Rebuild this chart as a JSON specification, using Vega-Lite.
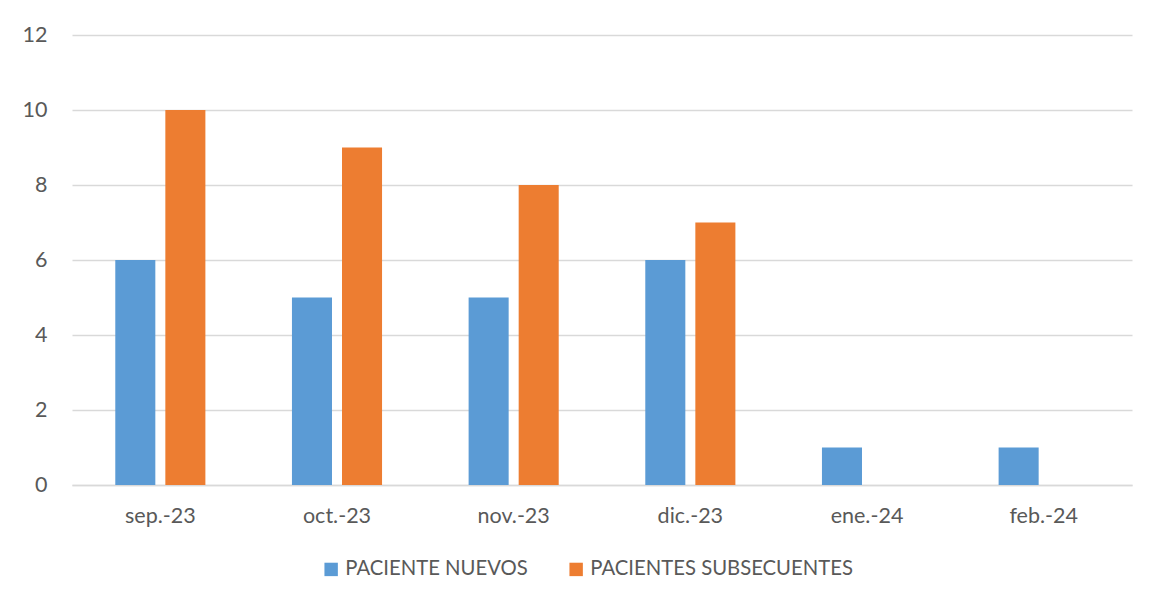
{
  "$schema": "https://vega.github.io/schema/vega-lite/v6.json",
  "width": 1060,
  "height": 450,
  "autosize": "none",
  "padding": {"left": 72, "top": 35, "right": 27, "bottom": 118},
  "background": "white",
  "data": {
    "values": [
      {"mes": "sep.-23", "serie": "PACIENTE NUEVOS", "valor": 6},
      {"mes": "sep.-23", "serie": "PACIENTES SUBSECUENTES", "valor": 10},
      {"mes": "oct.-23", "serie": "PACIENTE NUEVOS", "valor": 5},
      {"mes": "oct.-23", "serie": "PACIENTES SUBSECUENTES", "valor": 9},
      {"mes": "nov.-23", "serie": "PACIENTE NUEVOS", "valor": 5},
      {"mes": "nov.-23", "serie": "PACIENTES SUBSECUENTES", "valor": 8},
      {"mes": "dic.-23", "serie": "PACIENTE NUEVOS", "valor": 6},
      {"mes": "dic.-23", "serie": "PACIENTES SUBSECUENTES", "valor": 7},
      {"mes": "ene.-24", "serie": "PACIENTE NUEVOS", "valor": 1},
      {"mes": "ene.-24", "serie": "PACIENTES SUBSECUENTES", "valor": 0},
      {"mes": "feb.-24", "serie": "PACIENTE NUEVOS", "valor": 1},
      {"mes": "feb.-24", "serie": "PACIENTES SUBSECUENTES", "valor": 0}
    ]
  },
  "mark": {"type": "bar"},
  "encoding": {
    "x": {
      "field": "mes",
      "type": "nominal",
      "sort": null,
      "scale": {"paddingInner": 0.49, "paddingOuter": 0.245},
      "axis": {
        "title": null,
        "labelAngle": 0,
        "ticks": false,
        "domainColor": "#d9d9d9",
        "domainWidth": 1.5,
        "labelPadding": 20,
        "labelFont": "Lato",
        "labelFontSize": 21.5,
        "labelColor": "#595959"
      }
    },
    "xOffset": {
      "field": "serie",
      "type": "nominal",
      "scale": {"paddingInner": 0.2, "paddingOuter": 0}
    },
    "y": {
      "field": "valor",
      "type": "quantitative",
      "scale": {"domain": [0, 12]},
      "axis": {
        "title": null,
        "values": [0, 2, 4, 6, 8, 10, 12],
        "domain": false,
        "ticks": false,
        "gridColor": "#d9d9d9",
        "gridWidth": 1.5,
        "labelPadding": 25,
        "labelFont": "Lato",
        "labelFontSize": 21.5,
        "labelColor": "#595959"
      }
    },
    "color": {
      "field": "serie",
      "type": "nominal",
      "scale": {
        "domain": ["PACIENTE NUEVOS", "PACIENTES SUBSECUENTES"],
        "range": ["#5B9BD5", "#ED7D31"]
      },
      "legend": {
        "title": null,
        "orient": "none",
        "direction": "horizontal",
        "legendX": 249,
        "legendY": 524,
        "symbolType": "square",
        "symbolSize": 180,
        "symbolStrokeWidth": 0,
        "symbolOpacity": 1,
        "labelFont": "Lato",
        "labelFontSize": 20.3,
        "labelLimit": 0,
        "labelColor": "#595959",
        "labelOffset": 4,
        "columnPadding": 38
      }
    }
  },
  "config": {
    "view": {"stroke": null}
  }
}
